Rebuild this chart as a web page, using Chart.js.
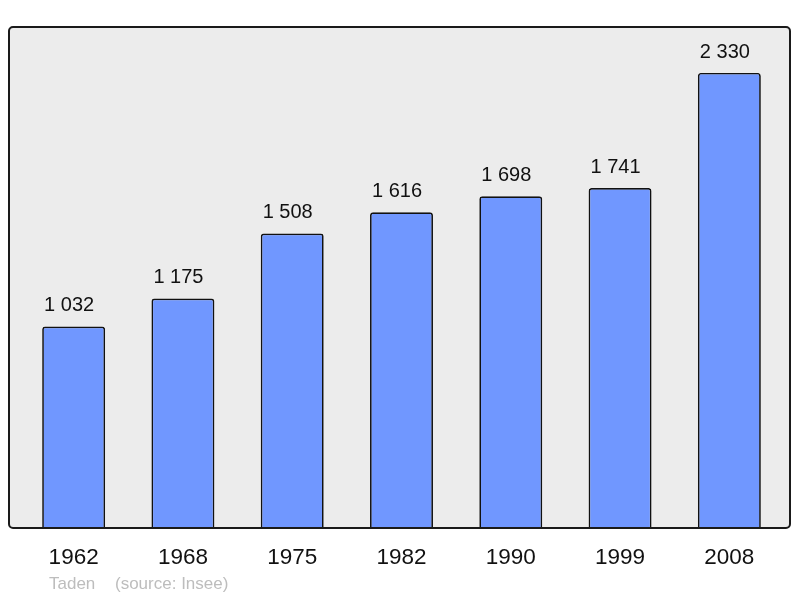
<!DOCTYPE html>
<html>
<head>
<meta charset="utf-8">
<script src="https://cdn.jsdelivr.net/npm/chart.js@4/dist/chart.umd.min.js"></script>
<style>
  html, body { margin: 0; padding: 0; background: #ffffff; }
  #wrap { width: 800px; height: 598px; }
</style>
</head>
<body>
<div id="wrap"><canvas id="myChart" width="800" height="598"></canvas></div>
<script>
// Données de population
var annees = ['1962', '1968', '1975', '1982', '1990', '1999', '2008'];
var population = [1032, 1175, 1508, 1616, 1698, 1741, 2330];
var yMax = 2565;
var credit = 'Taden';
var source = '(source: Insee)';

// format "1 032"
function fmt(v) {
  return String(v).replace(/\B(?=(\d{3})+(?!\d))/g, ' ');
}

// cadre gris + étiquettes de valeur + pied
var decor = {
  id: 'decor',
  beforeDatasetsDraw: function(chart) {
    var ctx = chart.ctx, a = chart.chartArea;
    ctx.save();
    ctx.beginPath();
    ctx.roundRect(a.left - 10, a.top, a.right - a.left + 16, a.bottom - a.top, 4);
    ctx.fillStyle = '#ececec';
    ctx.fill();
    ctx.restore();
  },
  afterDatasetsDraw: function(chart) {
    var ctx = chart.ctx, a = chart.chartArea;
    ctx.save();
    ctx.beginPath();
    ctx.roundRect(a.left - 10, a.top, a.right - a.left + 16, a.bottom - a.top, 4);
    ctx.lineWidth = 2;
    ctx.strokeStyle = '#1a1a1a';
    ctx.stroke();

    ctx.font = '20px "Liberation Sans", Arial, sans-serif';
    ctx.fillStyle = '#111111';
    ctx.textAlign = 'center';
    ctx.textBaseline = 'alphabetic';
    chart.getDatasetMeta(0).data.forEach(function(bar, i) {
      ctx.fillText(fmt(population[i]), bar.x - 4.5, bar.y - 15);
    });

    ctx.font = '17px "Liberation Sans", Arial, sans-serif';
    ctx.fillStyle = '#bdbdbd';
    ctx.textAlign = 'left';
    ctx.fillText(credit, a.left + 30, a.bottom + 61);
    ctx.fillText(source, a.left + 96, a.bottom + 61);
    ctx.restore();
  }
};

var ctx = document.getElementById('myChart').getContext('2d');
var myChart = new Chart(ctx, {
  type: 'bar',
  data: {
    labels: annees,
    datasets: [{
      data: population,
      backgroundColor: '#7097ff',
      borderColor: '#111111',
      borderWidth: 1.7,
      borderRadius: 3,
      borderSkipped: 'bottom',
      barPercentage: 0.576,
      categoryPercentage: 1
    }]
  },
  options: {
    responsive: false,
    animation: false,
    layout: { padding: { top: 27, left: 19, right: 16, bottom: 11 } },
    plugins: { legend: { display: false }, tooltip: { enabled: false } },
    scales: {
      x: {
        grid: { display: false, drawTicks: false },
        border: { display: false },
        ticks: {
          padding: 16,
          color: '#111111',
          font: { family: '"Liberation Sans", Arial, sans-serif', size: 22.5 }
        }
      },
      y: {
        display: false,
        min: 0,
        max: yMax
      }
    }
  },
  plugins: [decor]
});
</script>
</body>
</html>
